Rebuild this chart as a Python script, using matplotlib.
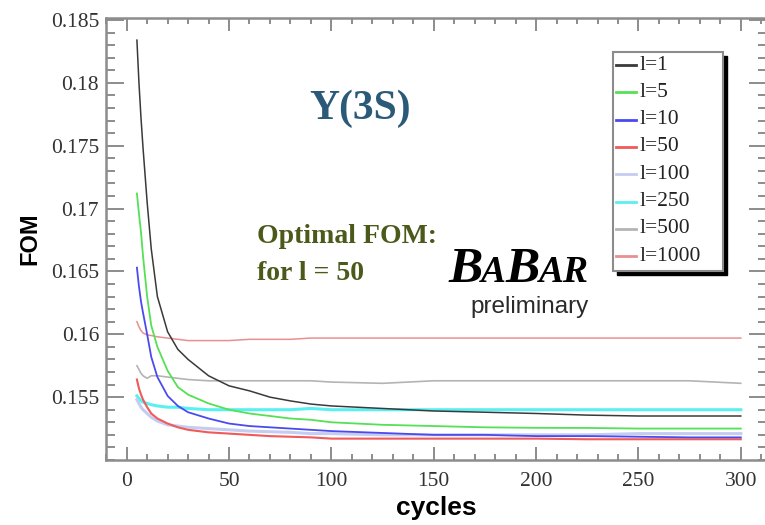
import matplotlib
matplotlib.use("Agg")
import matplotlib.pyplot as plt
from matplotlib.patches import Rectangle
from matplotlib.lines import Line2D
from matplotlib.ticker import MultipleLocator

# cycles at which the FOM was evaluated
cycles = [5, 6, 7, 8, 10, 12, 15, 20, 25, 30, 40, 50, 60, 70, 80, 90, 100,
          125, 150, 175, 200, 225, 250, 275, 300]

# FOM values, one list per l
fom_l1 = [0.1834, 0.1800, 0.1772, 0.1748, 0.1705, 0.1668, 0.1630, 0.1602, 0.1588,
          0.1580, 0.1567, 0.1559, 0.1555, 0.1550, 0.1547, 0.15445, 0.1543,
          0.1541, 0.1539, 0.1538, 0.1537, 0.15357, 0.1535, 0.1535, 0.1535]
fom_l5 = [0.1712, 0.1696, 0.1681, 0.1662, 0.1630, 0.1607, 0.1590, 0.1571, 0.1558,
          0.1552, 0.1545, 0.1540, 0.1537, 0.1535, 0.1533, 0.1532, 0.1530,
          0.1528, 0.1527, 0.1526, 0.15256, 0.15255, 0.1525, 0.1525, 0.1525]
fom_l10 = [0.1653, 0.1638, 0.1626, 0.1617, 0.1600, 0.1582, 0.1566, 0.1551, 0.1543,
           0.1538, 0.1533, 0.1529, 0.1527, 0.1526, 0.1525, 0.1524, 0.1523,
           0.15215, 0.1520, 0.1520, 0.1519, 0.1519, 0.15185, 0.1518, 0.1518]
fom_l50 = [0.1564, 0.1557, 0.1552, 0.1548, 0.1542, 0.1537, 0.1533, 0.1529, 0.1526,
           0.1524, 0.1522, 0.1521, 0.1520, 0.1519, 0.15185, 0.1518, 0.1517,
           0.1517, 0.1517, 0.1517, 0.1517, 0.15165, 0.15165, 0.15165, 0.15165]
fom_l100 = [0.1548, 0.1545, 0.1542, 0.1540, 0.1537, 0.1534, 0.1531, 0.1528, 0.1527,
            0.1526, 0.1525, 0.1524, 0.1523, 0.15225, 0.1522, 0.1521, 0.1521,
            0.1520, 0.1520, 0.1520, 0.1520, 0.1520, 0.1521, 0.1521, 0.1521]
fom_l250 = [0.1551, 0.1549, 0.1547, 0.1546, 0.1545, 0.1544, 0.1543, 0.1542, 0.1542,
            0.1541, 0.1540, 0.1540, 0.1540, 0.1540, 0.1540, 0.1541, 0.1540,
            0.1540, 0.1540, 0.1540, 0.1540, 0.1540, 0.1540, 0.1540, 0.1540]
fom_l500 = [0.1575, 0.1572, 0.1569, 0.1567, 0.1565, 0.1567, 0.1567, 0.1566, 0.1565,
            0.1564, 0.1563, 0.1563, 0.1563, 0.1563, 0.1563, 0.1563, 0.1562,
            0.1561, 0.1563, 0.1563, 0.1563, 0.1563, 0.1563, 0.1563, 0.1561]
fom_l1000 = [0.1610, 0.1606, 0.1603, 0.1601, 0.15995, 0.1599, 0.1598, 0.1597, 0.1596,
             0.1595, 0.1595, 0.1595, 0.1596, 0.1596, 0.1596, 0.1597, 0.1597,
             0.1597, 0.1597, 0.1597, 0.1597, 0.1597, 0.1597, 0.1597, 0.1597]

labels = ["l=1", "l=5", "l=10", "l=50", "l=100", "l=250", "l=500", "l=1000"]
series = [fom_l1, fom_l5, fom_l10, fom_l50, fom_l100, fom_l250, fom_l500, fom_l1000]
colors = ["#3a3a3a", "#55e055", "#4a4af0", "#f05a5a", "#c5ccf2", "#5af0f0",
          "#b4b4b4", "#e89090"]
widths = [1.1, 1.3, 1.3, 1.5, 2.2, 2.2, 1.2, 1.1]

W, H = 765, 525
serif = "Liberation Serif"
sans = "Liberation Sans"

fig = plt.figure(figsize=(W / 100, H / 100), dpi=100)
ax = fig.add_axes([106 / W, 65 / H, (767 - 106) / W, 442 / H])

# draw order: lower/later lines underneath
for i in [7, 6, 5, 4, 3, 2, 1, 0]:
    ax.plot(cycles, series[i], color=colors[i], lw=widths[i], solid_joinstyle="round")

ax.set_xlim(-10.1, 312.8)
ax.set_ylim(0.15, 0.18516)
ax.xaxis.set_major_locator(MultipleLocator(50))
ax.xaxis.set_minor_locator(MultipleLocator(10))
ax.yaxis.set_major_locator(MultipleLocator(0.005))
ax.yaxis.set_minor_locator(MultipleLocator(0.001))
ax.set_yticks([0.155, 0.16, 0.165, 0.17, 0.175, 0.18, 0.185])
ax.set_yticklabels(["0.155", "0.16", "0.165", "0.17", "0.175", "0.18", "0.185"])

frame = "#8c8c8c"
for s in ax.spines.values():
    s.set_color(frame)
    s.set_linewidth(1.8)
ax.tick_params(axis="both", which="both", direction="in", top=True, right=True,
               color=frame, width=1.4, labelcolor="#333333")
ax.tick_params(axis="x", which="major", length=9.5, pad=9, labelsize=15.5)
ax.tick_params(axis="x", which="minor", length=4.5)
ax.tick_params(axis="y", which="major", length=13, pad=5, labelsize=15.5)
ax.tick_params(axis="y", which="minor", length=6.5)
for lab in ax.get_xticklabels() + ax.get_yticklabels():
    lab.set_family(serif)

ax.set_xlabel("cycles", fontsize=19, fontweight="bold", family=sans, labelpad=3)
ax.set_ylabel("FOM", fontsize=17, fontweight="bold", family=sans, labelpad=7)


def fx(px):
    return px / W


def fy(py):
    return 1 - py / H


fig.text(fx(360), fy(109), "Y(3S)", fontsize=30, fontweight="bold", family=serif,
         color="#2a5a78", ha="center", va="center")
fig.text(fx(257), fy(243), "Optimal FOM:", fontsize=20, fontweight="bold",
         family=serif, color="#4b5a1b", va="baseline")
fig.text(fx(257), fy(280), "for l = 50", fontsize=20, fontweight="bold",
         family=serif, color="#4b5a1b", va="baseline")

# BaBar logo with alternating letter sizes
renderer = fig.canvas.get_renderer()
xpos = 448
for part, size in [("B", 37), ("A", 27), ("B", 37), ("AR", 27)]:
    t = fig.text(fx(xpos), fy(282), part, fontsize=size, fontweight="bold",
                 style="italic", family=serif, color="black", va="baseline")
    xpos = t.get_window_extent(renderer).x1 - 1
fig.text(fx(530), fy(307), "preliminary", fontsize=17.5, family=sans,
         color="#2a2a2a", ha="center", va="center")

# legend box with drop shadow
bx0, by0, bx1, by1 = 613, 52, 723, 271
fig.patches.append(Rectangle((fx(bx0 + 4), fy(by1 + 4)), (bx1 - bx0) / W,
                             (by1 - by0) / H, transform=fig.transFigure,
                             facecolor="black", edgecolor="black", lw=1, zorder=5))
fig.patches.append(Rectangle((fx(bx0), fy(by1)), (bx1 - bx0) / W, (by1 - by0) / H,
                             transform=fig.transFigure, facecolor="white",
                             edgecolor="#8c8c8c", lw=1.5, zorder=6))
for i, lab in enumerate(labels):
    ry = 65 + i * 27.3
    fig.add_artist(Line2D([fx(616), fx(636)], [fy(ry), fy(ry)], color=colors[i],
                          lw=2, transform=fig.transFigure, zorder=7))
    fig.text(fx(640), fy(ry), lab, fontsize=15.5, family=serif, color="#222222",
             va="center", zorder=7)

fig.savefig("out.png", dpi=100)
